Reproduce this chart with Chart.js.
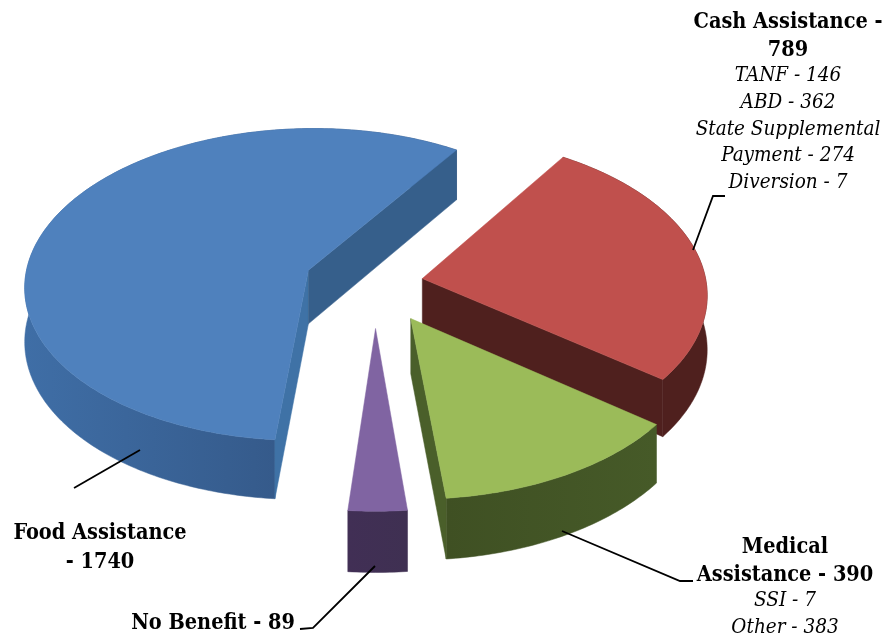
<!DOCTYPE html>
<html><head><meta charset="utf-8">
<style>html,body{margin:0;padding:0;background:#fff}#w{width:883px;height:639px;position:relative}</style>
<script src="https://cdn.jsdelivr.net/npm/chart.js@4"></script></head>
<body><div id="w"><canvas id="c" width="883" height="639"></canvas></div>
<script>
const categories=['Cash Assistance','Medical Assistance','No Benefit','Food Assistance'];
const values=[789,390,89,1740];
const explode=[42,63,70,62];
const topColors=['#c0504d','#9bbb59','#8064a2','#4f81bd'];
const rimStops=[['#4f201e','#4f201e'],['#3f5023','#465a28'],['#412f55','#3f3052'],['#3f6ea6','#2e4c77']];
const startWall=['#4f201e','#4a5f2a','#412f55','#3f72a6'];
const endWall=['#4f201e','#4a5f2a','#412f55','#365f8b'];
const boldFont='bold 21.5px "DejaVu Serif Condensed"';
const italicFont='italic 20.5px "DejaVu Serif Condensed"';
const textBlocks=[
 {x:788,lines:[['Cash Assistance -',22,1],['789',50,1],['TANF - 146',76,0],['ABD - 362',103,0],['State Supplemental',130,0],['Payment - 274',156,0],['Diversion - 7',183,0]]},
 {x:100,lines:[['Food Assistance',533,1],['- 1740',562,1]]},
 {x:785,lines:[['Medical',547,1],['Assistance - 390',575,1],['SSI - 7',601,0],['Other - 383',628,0]]},
 {x:213,lines:[['No Benefit - 89',623,1]]}
];
const leaders=[[[693,250],[713,196],[725,196]],[[140,450],[74,488]],[[562,531],[680,581],[693,581]],[[375,566],[313,628],[300,629]]];
const persp=0.092,depth=54,xUnit=284,yUnit=157;

const pie3d={id:'pie3d',
 beforeDatasetsDraw(chart){
  const ctx=chart.ctx,meta=chart.getDatasetMeta(0);
  meta.data.forEach((el,i)=>{
   const R=el.outerRadius,a0=el.startAngle,a1=el.endAngle,mid=(a0+a1)/2,off=el.options.offset/R;
   const ox=Math.cos(mid)*off,oy=Math.sin(mid)*off;
   const P=(u,v,z)=>{const U=u+ox,V=v+oy,w=1-persp*V;return [el.x+xUnit*U/w,el.y+(yUnit*V+z*depth)/w];};
   const arc=(z,rev)=>{const pts=[],n=Math.max(4,Math.ceil((a1-a0)/0.015));
     for(let k=0;k<=n;k++){const a=a0+(a1-a0)*(rev?n-k:k)/n;pts.push(P(Math.cos(a),Math.sin(a),z));}return pts;};
   const fill=(pts,style)=>{ctx.beginPath();pts.forEach((p,k)=>k?ctx.lineTo(p[0],p[1]):ctx.moveTo(p[0],p[1]));ctx.closePath();ctx.fillStyle=style;ctx.strokeStyle=style;ctx.lineWidth=0.5;ctx.fill();ctx.stroke();};
   const edge=a=>[P(0,0,0),P(Math.cos(a),Math.sin(a),0),P(Math.cos(a),Math.sin(a),1),P(0,0,1)];
   const rim=arc(0,false).concat(arc(1,true));
   const xs=rim.map(p=>p[0]);
   const g=ctx.createLinearGradient(Math.min(...xs),0,Math.max(...xs),0);
   g.addColorStop(0,rimStops[i][0]);g.addColorStop(1,rimStops[i][1]);
   fill(rim,g);
   if(Math.sin(a0-Math.PI/2)>0) fill(edge(a0),startWall[i]);
   if(Math.sin(a1+Math.PI/2)>0) fill(edge(a1),endWall[i]);
   fill([P(0,0,0)].concat(arc(0,false)),el.options.backgroundColor);
  });
  return false;
 },
 afterDraw(chart){
  const ctx=chart.ctx;
  ctx.save();ctx.strokeStyle='#000';ctx.lineWidth=1.8;
  leaders.forEach(l=>{ctx.beginPath();l.forEach((p,k)=>k?ctx.lineTo(p[0],p[1]):ctx.moveTo(p[0],p[1]));ctx.stroke();});
  ctx.fillStyle='#000';ctx.textAlign='center';ctx.textBaseline='middle';
  textBlocks.forEach(b=>b.lines.forEach(l=>{ctx.font=l[2]?boldFont:italicFont;ctx.fillText(l[0],b.x,l[1]);}));
  ctx.restore();
 }
};
new Chart(document.getElementById('c'),{type:'pie',
 data:{labels:categories,datasets:[{data:values,backgroundColor:topColors,offset:explode,borderWidth:0}]},
 options:{responsive:false,animation:false,rotation:33.2,
  layout:{padding:{left:0,top:0,right:133,bottom:73}},
  plugins:{legend:{display:false},tooltip:{enabled:false}}},
 plugins:[pie3d]});
</script></body></html>
